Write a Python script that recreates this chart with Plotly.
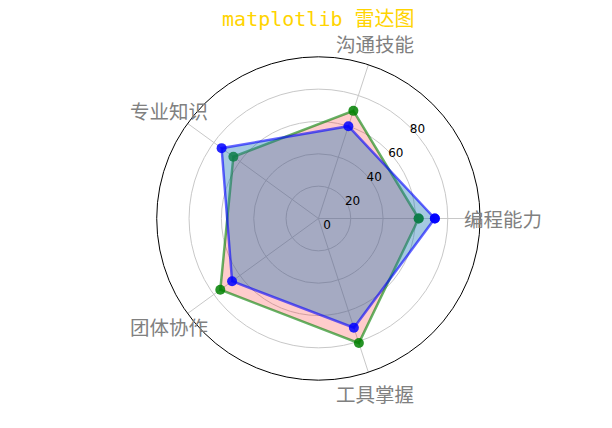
import math
import plotly.graph_objects as go

# 雷达图数据
categories = ['编程能力', '沟通技能', '专业知识', '团体协作', '工具掌握']
values_green = [62, 70, 65, 75, 81]
values_blue = [72, 60, 74, 66, 71]
radial_ticks = [0, 20, 40, 60, 80]

R_MAX = 100
LABEL_FRAC = 1.14   # 类别标签中心放在外圈半径的 1.14 倍处（matplotlib 风格）

# 页面 body 自带约 8px 的边距，这里把位置往左上挪一点
POLAR_X = [0.2430, 0.7714]
POLAR_Y = [0.1304, 0.8860]


def closed(seq):
    """首尾相连，闭合多边形"""
    return list(seq) + [seq[0]]


fig = go.Figure()

fig.add_trace(go.Scatterpolar(
    r=closed(values_green),
    theta=closed(categories),
    mode='lines+markers',
    fill='toself',
    fillcolor='rgba(255,0,0,0.2)',
    line=dict(color='rgba(0,128,0,0.6)', width=2.5),
    marker=dict(color='rgba(0,128,0,0.85)', size=10),
    name='A'
))

fig.add_trace(go.Scatterpolar(
    r=closed(values_blue),
    theta=closed(categories),
    mode='lines+markers',
    fill='toself',
    fillcolor='rgba(31,119,180,0.4)',
    line=dict(color='rgba(0,0,255,0.6)', width=2.5),
    marker=dict(color='rgba(0,0,255,0.85)', size=10),
    name='B'
))

# 类别标签：以标签中心对齐，放在外圈之外
cx = sum(POLAR_X) / 2
cy = sum(POLAR_Y) / 2
rx = (POLAR_X[1] - POLAR_X[0]) / 2 * LABEL_FRAC
ry = (POLAR_Y[1] - POLAR_Y[0]) / 2 * LABEL_FRAC
annotations = []
for i, name in enumerate(categories):
    ang = 2 * math.pi * i / len(categories)
    annotations.append(dict(
        x=cx + rx * math.cos(ang),
        y=cy + ry * math.sin(ang),
        xref='paper', yref='paper',
        xanchor='center', yanchor='middle',
        text=name,
        showarrow=False,
        font=dict(family='Noto Sans CJK SC', size=19.5, color='gray')
    ))

fig.update_layout(
    width=612,
    height=428,
    margin=dict(l=0, r=0, t=0, b=0),
    paper_bgcolor='white',
    plot_bgcolor='white',
    showlegend=False,
    annotations=annotations,
    title=dict(
        text='matplotlib 雷达图',
        x=0.507, y=0.974,
        xanchor='center', yanchor='middle',
        font=dict(family='DejaVu Sans Mono, Noto Sans CJK SC', size=20, color='#FFD400')
    ),
    polar=dict(
        domain=dict(x=POLAR_X, y=POLAR_Y),
        bgcolor='white',
        angularaxis=dict(
            rotation=0,
            direction='counterclockwise',
            showline=True,
            linecolor='black',
            linewidth=1,
            gridcolor='#c8c8c8',
            gridwidth=1,
            ticks='',
            showticklabels=False
        ),
        radialaxis=dict(
            range=[0, R_MAX],
            tickvals=radial_ticks,
            ticktext=[str(v) for v in radial_ticks],
            angle=48,
            tickangle=48,
            showline=False,
            ticks='',
            gridcolor='#c8c8c8',
            gridwidth=1,
            tickfont=dict(family='DejaVu Sans', size=12, color='black')
        )
    )
)

fig.write_html("out.html")
